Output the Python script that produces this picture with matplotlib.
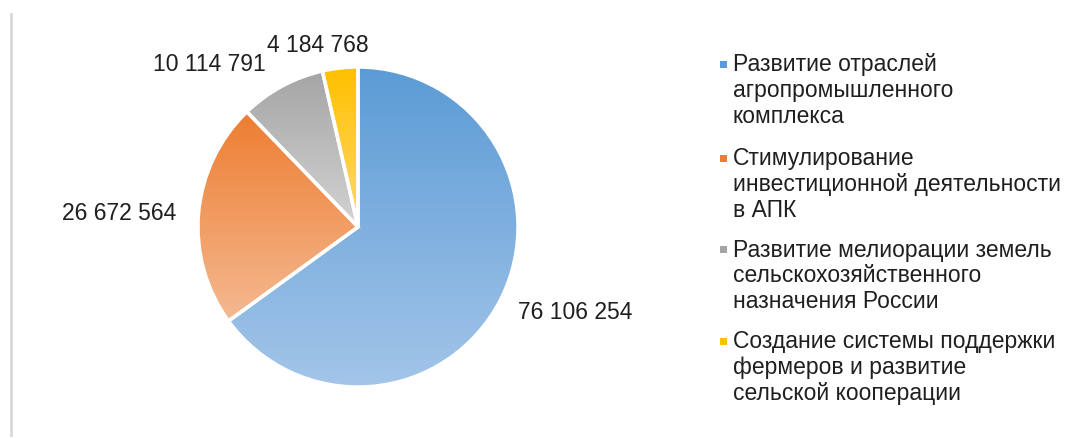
import matplotlib
matplotlib.use("Agg")
import matplotlib.pyplot as plt
import numpy as np
from matplotlib.colors import LinearSegmentedColormap
from matplotlib.patches import Rectangle
from matplotlib.lines import Line2D

plt.rcParams['font.family'] = ['Liberation Sans', 'DejaVu Sans']

# ---- data ----
categories = [
    "Развитие отраслей\nагропромышленного\nкомплекса",
    "Стимулирование\nинвестиционной деятельности\nв АПК",
    "Развитие мелиорации земель\nсельскохозяйственного\nназначения России",
    "Создание системы поддержки\nфермеров и развитие\nсельской кооперации",
]
values = [76106254, 26672564, 10114791, 4184768]
value_labels = ["76 106 254", "26 672 564", "10 114 791", "4 184 768"]

# ---- style ----
top_colors = ["#5B9BD5", "#ED7D31", "#A5A5A5", "#FFC000"]
bottom_colors = ["#A3C5E9", "#F5B991", "#D3D3D3", "#FFDA6E"]
legend_colors = ["#5B9BD5", "#ED7D31", "#A5A5A5", "#FFC000"]
label_pos = [(1.36, -0.53), (-1.49, 0.09), (-0.93, 1.02), (-0.25, 1.14)]
text_color = "#1f1f1f"
FS = 16.5

W, H = 1074, 439
fig = plt.figure(figsize=(W / 100, H / 100), dpi=100)

cx, cy, r = 358, 228, 160
ax = fig.add_axes([(cx - r) / W, (H - cy - r) / H, 2 * r / W, 2 * r / H])
ax.set_xlim(-1, 1)
ax.set_ylim(-1, 1)
ax.set_aspect('equal')
ax.axis('off')

wedges, _ = ax.pie(values, startangle=90, counterclock=False, radius=1,
                   wedgeprops=dict(linewidth=2.5, edgecolor='white'))

grad = np.linspace(0, 1, 256).reshape(-1, 1)
for w, ct, cb in zip(wedges, top_colors, bottom_colors):
    w.set_facecolor('none')
    w.set_zorder(3)
    bb = w.get_path().get_extents(w.get_patch_transform())
    cmap = LinearSegmentedColormap.from_list('g', [ct, cb])
    im = ax.imshow(grad, cmap=cmap, extent=[bb.x0, bb.x1, bb.y0, bb.y1],
                   origin='upper', aspect='auto', zorder=2, interpolation='bilinear')
    im.set_clip_path(w)
ax.set_xlim(-1, 1)
ax.set_ylim(-1, 1)

for (lx, ly), txt in zip(label_pos, value_labels):
    ax.text(lx, ly, txt, ha='center', va='center', fontsize=FS, color=text_color, clip_on=False)

# legend
entry_tops = [65, 159, 250, 342]
line_step = 26
for cat, col, y0 in zip(categories, legend_colors, entry_tops):
    fig.add_artist(Rectangle((719.5 / W, (H - y0 - 3.5) / H), 7 / W, 7 / H,
                             transform=fig.transFigure, facecolor=col, edgecolor='none'))
    for i, line in enumerate(cat.split("\n")):
        fig.text(733 / W, (H - (y0 + i * line_step)) / H, line, ha='left', va='center',
                 fontsize=FS, color=text_color)

# left border line
fig.add_artist(Line2D([11 / W, 11 / W], [(H - 15) / H, (H - 436) / H],
                      transform=fig.transFigure, color='#D9D9D9', linewidth=2))

fig.savefig("out.png", dpi=100)
